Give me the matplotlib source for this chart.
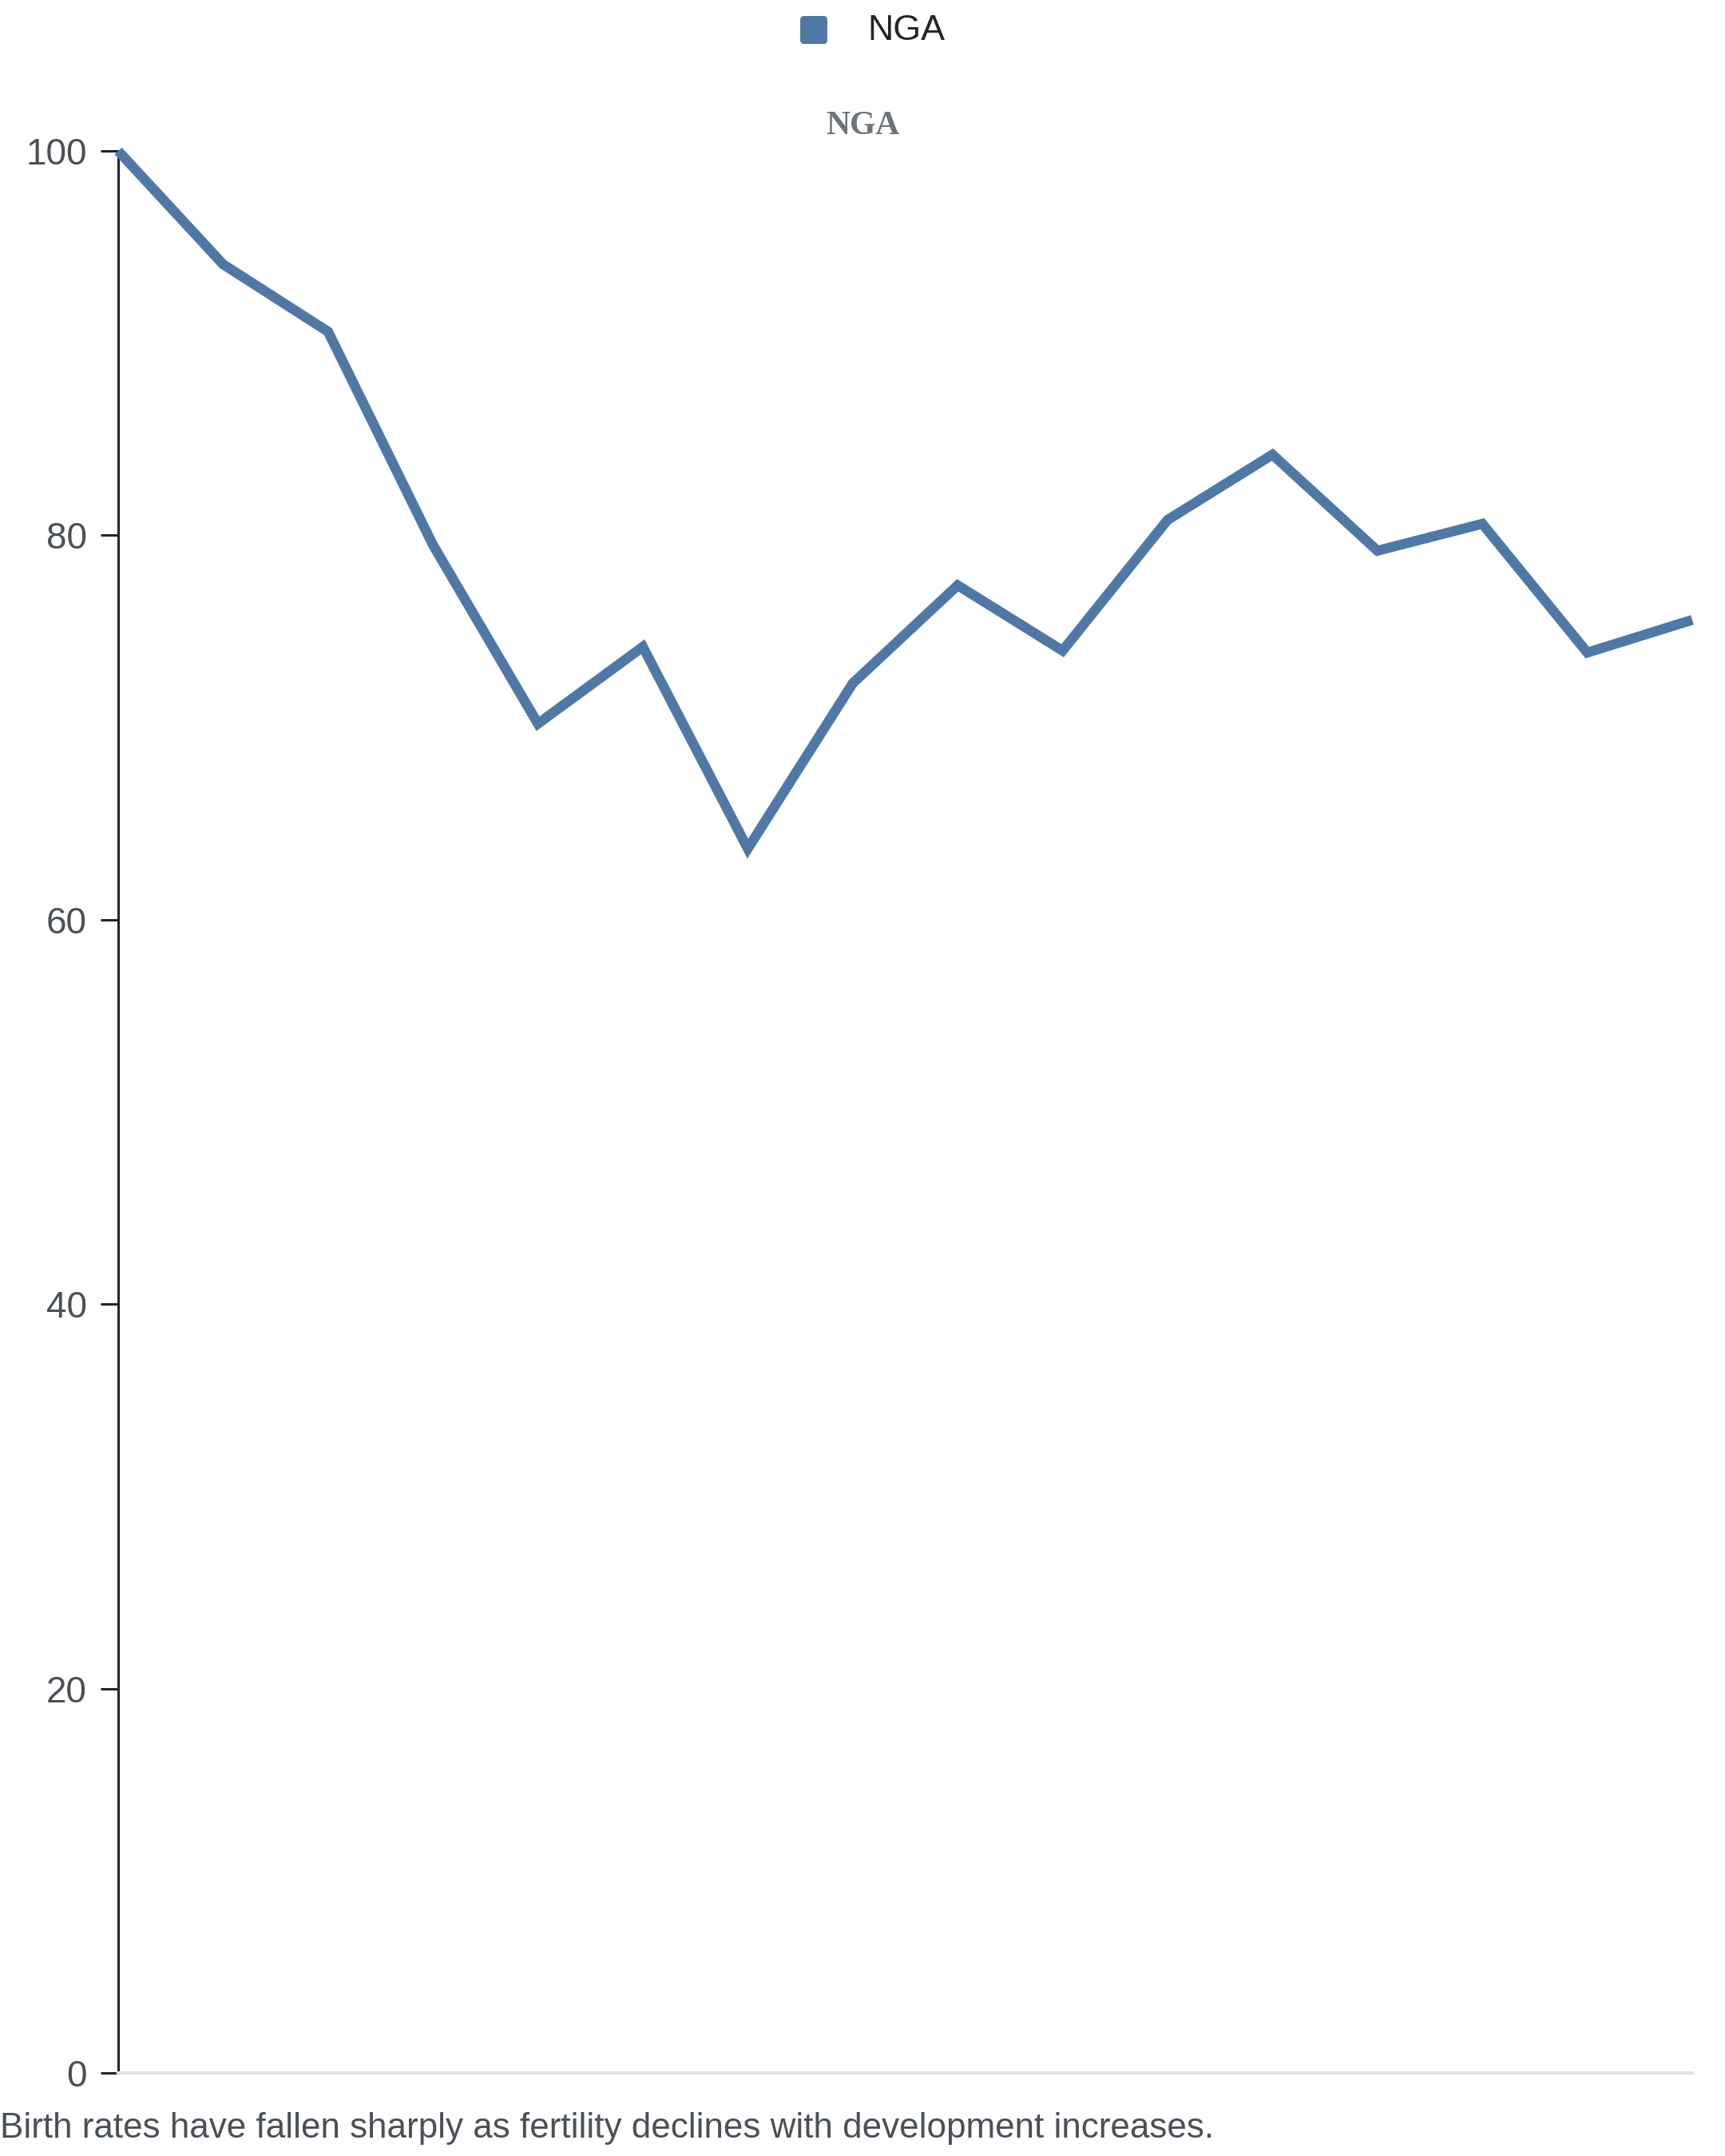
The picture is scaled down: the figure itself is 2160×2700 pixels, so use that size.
import matplotlib.pyplot as plt
from matplotlib.patches import FancyBboxPatch

# values (index along x, no year labels shown)
series_name = "NGA"
values = [100.0, 94.1, 90.6, 79.5, 70.2, 74.2, 63.7, 72.3, 77.4, 74.0,
          80.8, 84.2, 79.2, 80.6, 73.9, 75.6]
x_idx = list(range(len(values)))
y_ticks = [0, 20, 40, 60, 80, 100]
caption = "Birth rates have fallen sharply as fertility declines with development increases."

line_color = "#4e79a7"

fig = plt.figure(figsize=(21.6, 27), dpi=100)
ax = fig.add_axes([0.0685, 0.0385, 0.9125, 0.8915])

ax.plot(x_idx, values, color=line_color, linewidth=9, solid_joinstyle="miter",
        solid_capstyle="butt", clip_on=False, zorder=3)

ax.set_xlim(0, len(values) - 1)
ax.set_ylim(0, 100)
ax.set_yticks(y_ticks)
ax.set_xticks([])

for s in ["top", "right"]:
    ax.spines[s].set_visible(False)
ax.spines["left"].set_color("#212529")
ax.spines["left"].set_linewidth(2.2)
ax.spines["bottom"].set_color("#dee2e6")
ax.spines["bottom"].set_linewidth(3)
ax.tick_params(axis="y", length=16, width=2.2, color="#212529",
               labelsize=33, labelcolor="#495057", pad=12)
for lab in ax.get_yticklabels():
    lab.set_family(["Liberation Sans", "DejaVu Sans"])

# title
fig.text(0.5, 1 - 158 / 2700, series_name, ha="center", va="center",
         fontsize=30, fontweight="bold", color="#6c757d",
         family=["Liberation Serif", "DejaVu Serif"])

# legend
fig.patches.append(FancyBboxPatch((1002 / 2160, 1 - 55 / 2700), 34 / 2160, 35 / 2700,
                                  boxstyle="round,pad=0,rounding_size=0.002",
                                  transform=fig.transFigure, facecolor=line_color,
                                  edgecolor="none"))
fig.text(1086 / 2160, 1 - 39 / 2700, series_name, ha="left", va="center",
         fontsize=32.3, color="#212529", family=["Liberation Sans", "DejaVu Sans"])

# caption
fig.text(0.0, 1 - 2665 / 2700, caption, ha="left", va="center",
         fontsize=31.7, color="#495057", family=["Liberation Sans", "DejaVu Sans"])

fig.savefig("out.png", dpi=100, facecolor="white")
